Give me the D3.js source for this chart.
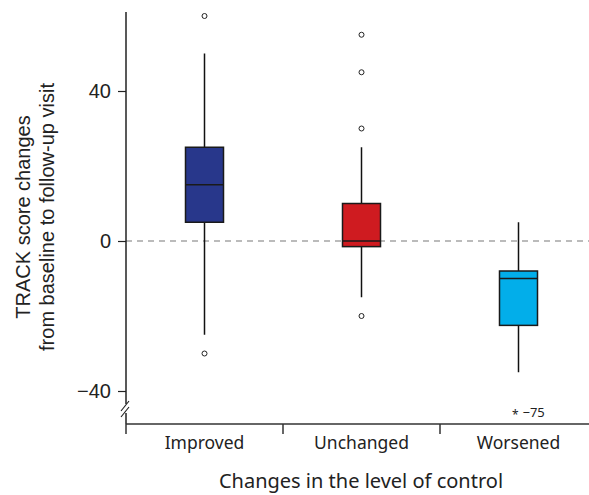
<!DOCTYPE html>
<html>
<head>
<meta charset="utf-8">
<script src="https://cdn.jsdelivr.net/npm/d3@7"></script>
<style>
  body { margin: 0; background: #fff; }
  svg { display: block; }
</style>
</head>
<body>
<svg width="589" height="495"></svg>
<script>
// DATA
var groups = ["Improved", "Unchanged", "Worsened"];
var colors = ["#28378b", "#cf1b20", "#02aeea"];
var q1 = [5, -1.5, -22.5];
var medians = [15, 0, -10];
var q3 = [25, 10, -8];
var whiskerLow = [-25, -15, -35];
var whiskerHigh = [50, 25, 5];
var outliers = [[60, -30], [55, 45, 30, -20], []];
var extremeGroup = "Worsened";
var extremeLabel = "\u221275";
var yTicks = [40, 0, -40];

// SETUP
var svg = d3.select("svg"),
    margin = { top: 12, right: -8, bottom: 71, left: 126 },
    width = 589 - margin.left - margin.right,
    height = 424 - margin.top;

var x = d3.scaleBand().domain(groups).range([0, width]).paddingInner(0).paddingOuter(0);
var y = d3.scaleLinear().domain([-40, 40]).range([391 - margin.top, 91 - margin.top]);

var g = svg.append("g")
    .attr("transform", "translate(" + margin.left + "," + margin.top + ")");

// zero line
g.append("line")
    .attr("x1", 0).attr("x2", 589)
    .attr("y1", y(0)).attr("y2", y(0))
    .attr("stroke", "#bbb")
    .attr("stroke-width", 2)
    .attr("stroke-dasharray", "6,5");

// y axis
var yAxis = g.append("g")
    .call(d3.axisLeft(y).tickValues(yTicks).tickSize(8).tickPadding(7).tickFormat(function (d) { return d < 0 ? "\u2212" + Math.abs(d) : d; }));
yAxis.select(".domain").remove();
yAxis.selectAll("line").attr("stroke", "#222").attr("stroke-width", 1.2);
yAxis.selectAll("text")
    .attr("font-family", "'Liberation Sans', Arial, sans-serif")
    .attr("font-size", 20)
    .attr("fill", "#222");

// y axis line with break
g.append("line").attr("x1", 0).attr("x2", 0).attr("y1", 0).attr("y2", 392).attr("stroke", "#222").attr("stroke-width", 1.5);
g.append("line").attr("x1", 0).attr("x2", 0).attr("y1", 401).attr("y2", height).attr("stroke", "#222").attr("stroke-width", 1.5);
[0, 6].forEach(function (o) {
    g.append("line")
        .attr("x1", -5).attr("y1", 399 + o)
        .attr("x2", 3).attr("y2", 389 + o)
        .attr("stroke", "#222").attr("stroke-width", 1.2);
});

// x axis
var xAxis = g.append("g")
    .attr("transform", "translate(0," + height + ")")
    .call(d3.axisBottom(x).tickSize(0).tickPadding(13));
xAxis.select(".domain").attr("stroke", "#333").attr("stroke-width", 1.5).attr("d", "M0,0H" + width);
xAxis.selectAll("text")
    .attr("font-family", "'Noto Sans', sans-serif")
    .attr("font-size", 17.5)
    .attr("fill", "#222");
[0, 1, 2].forEach(function (i) {
    g.append("line")
        .attr("x1", i * x.bandwidth()).attr("x2", i * x.bandwidth())
        .attr("y1", height).attr("y2", height + 10)
        .attr("stroke", "#333").attr("stroke-width", 1.5);
});

// boxes
var boxW = 38;
groups.forEach(function (name, i) {
    var cx = x(name) + x.bandwidth() / 2;
    g.append("line")
        .attr("x1", cx).attr("x2", cx)
        .attr("y1", y(whiskerHigh[i])).attr("y2", y(whiskerLow[i]))
        .attr("stroke", "#111").attr("stroke-width", 1.5);
    g.append("rect")
        .attr("x", cx - boxW / 2).attr("width", boxW)
        .attr("y", y(q3[i])).attr("height", y(q1[i]) - y(q3[i]))
        .attr("fill", colors[i])
        .attr("stroke", "#1a1a1a").attr("stroke-width", 1.5);
    g.append("line")
        .attr("x1", cx - boxW / 2).attr("x2", cx + boxW / 2)
        .attr("y1", y(medians[i])).attr("y2", y(medians[i]))
        .attr("stroke", "#1a1a1a").attr("stroke-width", 1.5);
    g.selectAll(".out" + i)
        .data(outliers[i])
        .enter().append("circle")
        .attr("class", "out" + i)
        .attr("cx", cx).attr("cy", function (d) { return y(d); })
        .attr("r", 2.5)
        .attr("fill", "none").attr("stroke", "#222").attr("stroke-width", 1);
});

// extreme outlier beyond break
var ex = x(extremeGroup) + x.bandwidth() / 2;
g.append("text")
    .attr("x", ex).attr("y", 407)
    .attr("text-anchor", "end")
    .attr("font-family", "'Noto Sans', sans-serif")
    .attr("font-size", 12)
    .attr("fill", "#222")
    .text("*");
g.append("text")
    .attr("x", ex + 4).attr("y", 405)
    .attr("font-family", "'Noto Sans', sans-serif")
    .attr("font-size", 13)
    .attr("fill", "#222")
    .text(extremeLabel);

// axis titles
svg.append("text")
    .attr("x", 361).attr("y", 488)
    .attr("text-anchor", "middle")
    .attr("font-family", "'Noto Sans', sans-serif")
    .attr("font-size", 20)
    .attr("fill", "#222")
    .text("Changes in the level of control");

var yt = svg.append("text")
    .attr("transform", "translate(0,217) rotate(-90)")
    .attr("text-anchor", "middle")
    .attr("font-family", "'Liberation Sans', Arial, sans-serif")
    .attr("font-size", 20)
    .attr("fill", "#222");
yt.append("tspan").attr("x", 0).attr("y", 30).text("TRACK score changes");
yt.append("tspan").attr("x", 0).attr("y", 54).text("from baseline to follow-up visit");
</script>
</body>
</html>
